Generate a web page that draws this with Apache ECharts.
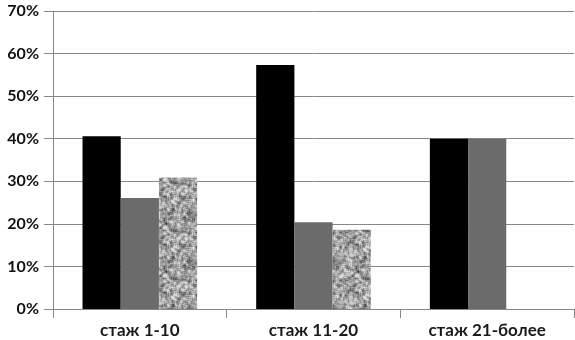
<!DOCTYPE html>
<html><head><meta charset="utf-8">
<script src="https://cdn.jsdelivr.net/npm/echarts@6/dist/echarts.min.js"></script>
<style>html,body{margin:0;padding:0;background:#fff}#c{width:575px;height:340px}</style>
</head><body><div id="c"></div>
<script>
const categories = ['стаж 1-10', 'стаж 11-20', 'стаж 21-более'];
const seriesA = [40.6, 57.3, 40.0];
const seriesB = [26.1, 20.4, 40.0];
const seriesC = [30.9, 18.6, null];
const yTicks = [0, 10, 20, 30, 40, 50, 60, 70];

function makeNoise() {
  const N = 48;
  const cv = document.createElement('canvas');
  cv.width = N; cv.height = N;
  const ctx = cv.getContext('2d');
  const img = ctx.createImageData(N, N);
  let s = 987;
  const raw = [];
  for (let i = 0; i < N * N; i++) {
    s = (s * 1103515245 + 12345) & 0x7fffffff;
    raw.push(((s >> 8) % 1000) / 1000);
  }
  for (let y = 0; y < N; y++) for (let x = 0; x < N; x++) {
    let sum = 0;
    for (let dy = -1; dy <= 1; dy++) for (let dx = -1; dx <= 1; dx++) {
      sum += raw[((y + dy + N) % N) * N + ((x + dx + N) % N)];
    }
    const m = sum / 9;
    const v = Math.max(60, Math.min(220, Math.round(160 + (m - 0.5) * 330)));
    const i = (y * N + x) * 4;
    img.data[i] = v; img.data[i+1] = v; img.data[i+2] = v; img.data[i+3] = 255;
  }
  ctx.putImageData(img, 0, 0);
  return cv;
}

const chart = echarts.init(document.getElementById('c'));
chart.setOption({
  animation: false,
  grid: { left: 53, right: 1, top: 11, bottom: 31 },
  xAxis: {
    type: 'category', data: categories,
    axisLine: { lineStyle: { color: '#888', width: 1 } },
    axisTick: { show: true, length: 9, lineStyle: { color: '#888' } },
    axisLabel: { color: '#1a1a1a', fontFamily: 'Lato', fontSize: 17, fontWeight: 'bold', margin: 13 }
  },
  yAxis: {
    type: 'value', min: 0, max: 70, interval: 10,
    axisLine: { show: true, lineStyle: { color: '#888', width: 1 } },
    axisTick: { show: true, length: 9, lineStyle: { color: '#888' } },
    splitLine: { lineStyle: { color: '#888', width: 1 } },
    axisLabel: { color: '#111', fontFamily: 'Lato', fontSize: 16, fontWeight: 'bold', margin: 14, formatter: v => v + '%' }
  },
  series: [
    { type: 'bar', data: seriesA, barGap: '0%', barCategoryGap: '34%', itemStyle: { color: '#000' } },
    { type: 'bar', data: seriesB, barGap: '0%', barCategoryGap: '34%', itemStyle: { color: '#6b6b6b' } },
    { type: 'bar', data: seriesC, barGap: '0%', barCategoryGap: '34%', itemStyle: { color: { image: makeNoise(), repeat: 'repeat' } } }
  ]
});
</script></body></html>
